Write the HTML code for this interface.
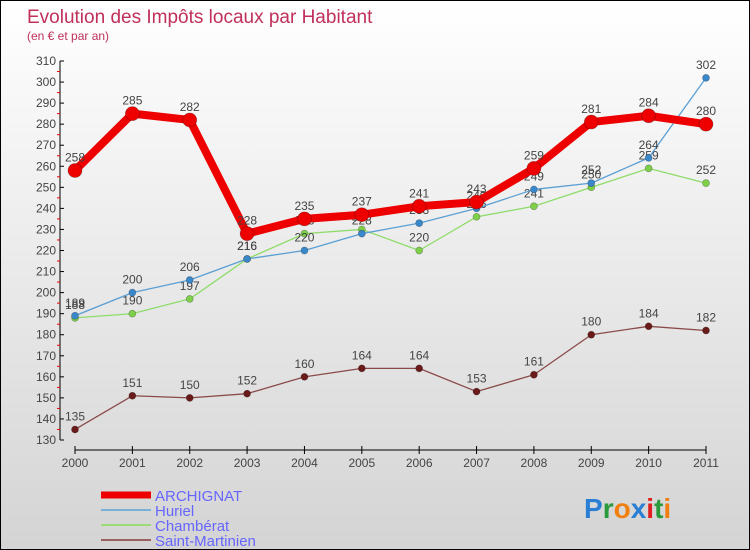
<!DOCTYPE html>
<html><head><meta charset="utf-8"><style>
body{margin:0;}
#c{width:750px;height:550px;position:relative;box-sizing:border-box;border:1px solid #000;background:linear-gradient(#ffffff,#d4d4d4);font-family:"Liberation Sans",sans-serif;overflow:hidden}
</style></head><body>
<div id="c">
<svg id="s" width="748" height="548" style="position:absolute;left:0;top:0">
<text x="26" y="22" font-size="19" fill="#c0305a">Evolution des Impôts locaux par Habitant</text>
<text x="26" y="39" font-size="12" fill="#c0305a">(en € et par an)</text>
<g id="axes"></g><g id="series"></g><g id="legend"></g>
<text x="583" y="517" font-size="28" font-weight="bold"><tspan fill="#2a7fd4">P</tspan><tspan fill="#2a9a3a">r</tspan><tspan fill="#f07f10">o</tspan><tspan fill="#2a7fd4">x</tspan><tspan fill="#e02020">i</tspan><tspan fill="#2a9a3a">t</tspan><tspan fill="#f07f10">i</tspan></text>
</svg>
</div>
<script>
const years=["2000","2001","2002","2003","2004","2005","2006","2007","2008","2009","2010","2011"];
const archignat=[258,285,282,228,235,237,241,243,259,281,284,280];
const huriel=[189,200,206,216,220,228,233,240,249,252,264,302];
const chamberat=[188,190,197,216,228,230,220,236,241,250,259,252];
const saintMartinien=[135,151,150,152,160,164,164,153,161,180,184,182];
const yTicks=[130,140,150,160,170,180,190,200,210,220,230,240,250,260,270,280,290,300,310];
const NS="http://www.w3.org/2000/svg";
const X=i=>74+i*(631/11);
const Y=v=>439-(v-130)*(379/180);
function mk(p,t,a){const e=document.createElementNS(NS,t);for(const k in a)e.setAttribute(k,a[k]);p.appendChild(e);return e;}
const ax=document.getElementById('axes');
let l=mk(ax,'line',{x1:59,y1:Y(310),x2:59,y2:Y(130),stroke:'#000'});

l=mk(ax,'line',{x1:74,y1:449,x2:X(11),y2:449,stroke:'#000'});

yTicks.forEach(v=>{mk(ax,'line',{x1:59,y1:Y(v),x2:63,y2:Y(v),stroke:'#000'});
 if(v<310)mk(ax,'line',{x1:56,y1:Y(v+5),x2:59,y2:Y(v+5),stroke:'#e00'});
 const t=mk(ax,'text',{x:55,y:Y(v)+4,'font-size':12,'text-anchor':'end',fill:'#444'});t.textContent=v;
 });
years.forEach((y,i)=>{mk(ax,'line',{x1:X(i),y1:445,x2:X(i),y2:453,stroke:'#000'});
 const t=mk(ax,'text',{x:X(i),y:466,'font-size':12,'text-anchor':'middle',fill:'#444'});t.textContent=y;
 });
const sg=document.getElementById('series');
function draw(data,color,w,r,name,dot){
 const p=mk(sg,'polyline',{points:data.map((v,i)=>X(i)+','+Y(v)).join(' '),fill:'none',stroke:color,'stroke-width':w,'stroke-linejoin':'round'});
 
 data.forEach((v,i)=>{const c=mk(sg,'circle',{cx:X(i),cy:Y(v),r:r,fill:dot,stroke:'rgba(0,0,0,0.3)','stroke-width':0.7});
  
  const t=mk(sg,'text',{x:X(i),y:Y(v)-9,'font-size':12,'text-anchor':'middle',fill:'#444'});t.textContent=v;
  });
}
draw(saintMartinien,'#8b4a4a',1.3,3.5,'saint-martinien','#6b1a1a');
draw(chamberat,'#8fdc6a',1.3,3.5,'chamberat','#7ed04a');
draw(huriel,'#5a9fd4',1.3,3.5,'huriel','#3a88cc');
draw(archignat,'#ee0000',8,7,'archignat','#ee0000');
const lg=document.getElementById('legend');
[['ARCHIGNAT','#ee0000',7],['Huriel','#7ab0d8',2],['Chambérat','#9cdc78',2],['Saint-Martinien','#9a6060',2]].forEach((e,i)=>{
 const y=494+i*15;
 const ln=mk(lg,'line',{x1:100,y1:y,x2:150,y2:y,stroke:e[1],'stroke-width':e[2]});
 
 const t=mk(lg,'text',{x:154,y:y+6,'font-size':15,fill:'#6666ff'});t.textContent=e[0];
 });
</script>
</body></html>
